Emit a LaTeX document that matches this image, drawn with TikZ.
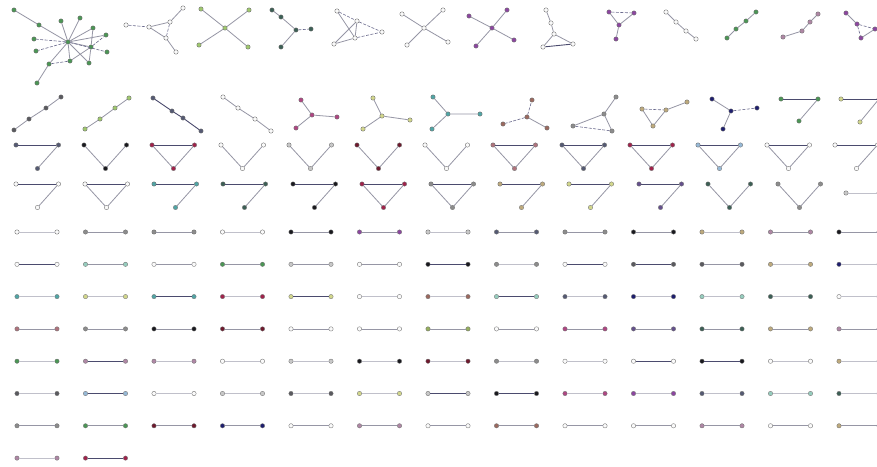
\documentclass[tikz,border=0pt]{standalone}
\definecolor{cW}{RGB}{250,250,250}
\definecolor{cLG}{RGB}{200,200,200}
\definecolor{cG}{RGB}{140,140,140}
\definecolor{cDG}{RGB}{90,90,95}
\definecolor{cK}{RGB}{25,25,30}
\definecolor{cPU}{RGB}{140,70,160}
\definecolor{cMG}{RGB}{175,70,130}
\definecolor{cCR}{RGB}{160,35,75}
\definecolor{cMR}{RGB}{110,25,45}
\definecolor{cTL}{RGB}{80,165,165}
\definecolor{cLT}{RGB}{150,205,190}
\definecolor{cGR}{RGB}{75,150,85}
\definecolor{cLGR}{RGB}{160,200,110}
\definecolor{cYG}{RGB}{210,215,140}
\definecolor{cTN}{RGB}{190,170,125}
\definecolor{cBR}{RGB}{155,105,95}
\definecolor{cMV}{RGB}{175,135,165}
\definecolor{cSL}{RGB}{85,90,115}
\definecolor{cNV}{RGB}{30,30,110}
\definecolor{cLB}{RGB}{150,185,215}
\definecolor{cDGS}{RGB}{60,95,85}
\definecolor{cOL}{RGB}{150,175,95}
\definecolor{cRS}{RGB}{175,115,125}
\definecolor{cPS}{RGB}{100,80,140}
\definecolor{eLc}{RGB}{192,192,202}
\definecolor{eMc}{RGB}{150,150,165}
\definecolor{eDc}{RGB}{75,75,110}
\definecolor{eXc}{RGB}{105,105,140}
\newcommand\gnode[4]{\node[nd,fill=#4] (#1) at (#2,#3) {};}
\begin{document}
\begin{tikzpicture}[x=1pt,y=-1pt,
  nd/.style={circle,inner sep=0pt,minimum size=4.4pt,draw=black!55,line width=0.35pt},
  eL/.style={draw=eLc,line width=0.7pt},
  eM/.style={draw=eMc,line width=0.8pt},
  eD/.style={draw=eDc,line width=0.9pt},
  eX/.style={draw=eXc,line width=0.6pt,dash pattern=on 3pt off 1.5pt}]
\useasboundingbox[fill=white] (0,0) rectangle (877,466);

% ---------- row 1 ----------
\gnode{a0}{68}{42}{cGR}\gnode{a1}{14}{10}{cGR}\gnode{a2}{39}{25}{cGR}
\gnode{a3}{61}{21}{cGR}\gnode{a4}{80}{18}{cGR}\gnode{a5}{93}{28}{cGR}
\gnode{a6}{106}{35}{cGR}\gnode{a7}{34}{39}{cGR}\gnode{a8}{36}{51}{cGR}
\gnode{a9}{91}{47}{cGR}\gnode{a10}{107}{52}{cGR}\gnode{a11}{70}{61}{cGR}
\gnode{a12}{49}{64}{cGR}\gnode{a13}{89}{63}{cGR}\gnode{a14}{37}{83}{cGR}
\draw[eM] (a1)--(a2) (a2)--(a0) (a0)--(a3) (a0)--(a4) (a0)--(a5) (a0)--(a6)
  (a0)--(a9) (a0)--(a11) (a0)--(a12) (a0)--(a13) (a12)--(a14) (a9)--(a13) (a5)--(a9) (a11)--(a9);
\draw[eX] (a0)--(a7) (a0)--(a8) (a0)--(a10) (a12)--(a11) (a9)--(a6);

\gnode{b1}{126}{25}{cW}\gnode{b2}{149}{27}{cW}\gnode{b3}{170}{22}{cW}
\gnode{b4}{183}{8}{cW}\gnode{b5}{166}{38}{cW}\gnode{b6}{176}{52}{cW}
\draw[eM] (b2)--(b3) (b3)--(b4) (b2)--(b5) (b5)--(b6);
\draw[eX] (b1)--(b2) (b3)--(b5);

\gnode{c0}{225}{28}{cLGR}\gnode{c1}{201}{9}{cLGR}\gnode{c2}{199}{45}{cLGR}
\gnode{c3}{249}{10}{cLGR}\gnode{c4}{248}{47}{cLGR}
\draw[eM] (c0)--(c1) (c0)--(c2) (c0)--(c3) (c0)--(c4);

\gnode{d1}{272}{10}{cDGS}\gnode{d2}{281}{17}{cDGS}\gnode{d3}{296}{30}{cDGS}
\gnode{d4}{311}{29}{cDGS}\gnode{d5}{281}{47}{cDGS}
\draw[eM] (d1)--(d2) (d2)--(d3) (d3)--(d5);
\draw[eX] (d3)--(d4);

\gnode{e1}{337}{11}{cW}\gnode{e2}{357}{21}{cW}\gnode{e3}{382}{32}{cW}
\gnode{e4}{334}{44}{cW}\gnode{e5}{355}{38}{cW}
\draw[eM] (e1)--(e5) (e2)--(e4) (e2)--(e5) (e4)--(e5);
\draw[eX] (e1)--(e2) (e2)--(e3) (e5)--(e3);

\gnode{f0}{424}{28}{cW}\gnode{f1}{402}{14}{cW}\gnode{f2}{407}{45}{cW}
\gnode{f3}{443}{10}{cW}\gnode{f4}{448}{42}{cW}
\draw[eM] (f0)--(f1) (f0)--(f2) (f0)--(f3) (f0)--(f4);

\gnode{g0}{492}{28}{cPU}\gnode{g1}{469}{16}{cPU}\gnode{g2}{507}{10}{cPU}
\gnode{g3}{476}{46}{cPU}\gnode{g4}{514}{40}{cPU}
\draw[eM] (g0)--(g1) (g0)--(g2) (g0)--(g3) (g0)--(g4);

\gnode{h1}{546}{10}{cW}\gnode{h2}{551}{23}{cW}\gnode{h3}{554}{34}{cW}
\gnode{h4}{543}{47}{cW}\gnode{h5}{573}{44}{cW}
\draw[eM] (h1)--(h2) (h2)--(h3) (h3)--(h4) (h3)--(h5);
\draw[eD] (h4)--(h5);

\gnode{i1}{609}{12}{cPU}\gnode{i2}{634}{13}{cPU}\gnode{i3}{619}{25}{cPU}\gnode{i4}{616}{39}{cPU}
\draw[eM] (i1)--(i3) (i2)--(i3) (i3)--(i4);
\draw[eX] (i1)--(i2);

\gnode{j1}{666}{12}{cW}\gnode{j2}{676}{22}{cW}\gnode{j3}{686}{31}{cW}\gnode{j4}{696}{39}{cW}
\draw[eM] (j1)--(j2) (j2)--(j3) (j3)--(j4);
\gnode{k1}{727}{38}{cGR}\gnode{k2}{736}{29}{cGR}\gnode{k3}{746}{21}{cGR}\gnode{k4}{756}{12}{cGR}
\draw[eM] (k1)--(k2) (k2)--(k3) (k3)--(k4);
\gnode{l1}{783}{37}{cMV}\gnode{l2}{802}{31}{cMV}\gnode{l3}{810}{22}{cMV}\gnode{l4}{818}{14}{cMV}
\draw[eM] (l1)--(l2) (l2)--(l3) (l3)--(l4);
\gnode{m1}{846}{13}{cPU}\gnode{m2}{857}{24}{cPU}\gnode{m3}{875}{29}{cPU}\gnode{m4}{861}{38}{cPU}
\draw[eM] (m1)--(m2) (m3)--(m4);
\draw[eX] (m2)--(m3) (m2)--(m4);

% ---------- row 2 ----------
\gnode{n1}{14}{130}{cDG}\gnode{n2}{29}{119}{cDG}\gnode{n3}{46}{108}{cDG}\gnode{n4}{61}{97}{cDG}
\draw[eM] (n1)--(n2) (n2)--(n3) (n3)--(n4);
\gnode{o1}{85}{129}{cLGR}\gnode{o2}{100}{119}{cLGR}\gnode{o3}{115}{108}{cLGR}\gnode{o4}{129}{98}{cLGR}
\draw[eM] (o1)--(o2) (o2)--(o3) (o3)--(o4);
\gnode{p1}{153}{98}{cSL}\gnode{p2}{172}{111}{cSL}\gnode{p3}{183}{118}{cSL}\gnode{p4}{201}{131}{cSL}
\draw[eD] (p1)--(p2) (p2)--(p3) (p3)--(p4);
\gnode{q1}{223}{97}{cW}\gnode{q2}{238}{108}{cW}\gnode{q3}{255}{119}{cW}\gnode{q4}{271}{131}{cW}
\draw[eM] (q1)--(q2) (q2)--(q3) (q3)--(q4);
\gnode{r0}{312}{115}{cMG}\gnode{r1}{301}{100}{cMG}\gnode{r2}{337}{117}{cMG}\gnode{r3}{296}{128}{cMG}
\draw[eM] (r0)--(r1) (r0)--(r2) (r0)--(r3);
\gnode{s0}{382}{116}{cYG}\gnode{s1}{373}{98}{cYG}\gnode{s2}{410}{120}{cYG}\gnode{s3}{363}{129}{cYG}
\draw[eM] (s0)--(s1) (s0)--(s2) (s0)--(s3);
\gnode{t0}{448}{114}{cTL}\gnode{t1}{433}{97}{cTL}\gnode{t2}{480}{114}{cTL}\gnode{t3}{432}{129}{cTL}
\draw[eM] (t0)--(t1) (t0)--(t2) (t0)--(t3);
\gnode{u0}{527}{117}{cBR}\gnode{u1}{532}{100}{cBR}\gnode{u2}{503}{124}{cBR}\gnode{u3}{547}{128}{cBR}
\draw[eM] (u0)--(u3);
\draw[eX] (u0)--(u1) (u0)--(u2);
\gnode{v1}{616}{97}{cG}\gnode{v2}{604}{114}{cG}\gnode{v3}{573}{126}{cG}\gnode{v4}{612}{131}{cG}
\draw[eM] (v1)--(v2) (v2)--(v3) (v2)--(v4);
\draw[eX] (v3)--(v4);
\gnode{w1}{642}{109}{cTN}\gnode{w2}{666}{110}{cTN}\gnode{w3}{687}{102}{cTN}\gnode{w4}{653}{126}{cTN}
\draw[eM] (w2)--(w3) (w1)--(w4) (w2)--(w4);
\draw[eX] (w1)--(w2);
\gnode{x0}{731}{111}{cNV}\gnode{x1}{712}{99}{cNV}\gnode{x2}{757}{108}{cNV}\gnode{x3}{723}{129}{cNV}
\draw[eM] (x0)--(x1) (x0)--(x3);
\draw[eX] (x0)--(x2);
\gnode{y1}{781}{99}{cGR}\gnode{y2}{818}{99}{cGR}\gnode{y3}{799}{121}{cGR}
\draw[eD] (y1)--(y2);
\draw[eM] (y2)--(y3);
\gnode{z1}{841}{99}{cYG}\gnode{z2}{879}{99}{cYG}\gnode{z3}{860}{122}{cYG}
\draw[eD] (z1)--(z2);
\draw[eM] (z2)--(z3);

% ---------- row 3 and row 4: three-node graphs ----------
% L shape: top edge + right to bottom
\foreach \L/\T/\col in {16/145/cSL, 835/145/cW, 16/184/cW, 154/184/cTL, 223/184/cDGS,
    293/184/cK, 500/184/cTN, 569/184/cYG, 639/184/cPS}{
  \gnode{ls\L-\T-a}{\L}{\T}{\col}
  \gnode{ls\L-\T-b}{\L+42.5}{\T}{\col}
  \gnode{ls\L-\T-c}{\L+21.5}{\T+23.5}{\col}
  \draw[eD] (ls\L-\T-a)--(ls\L-\T-b);
  \draw[eM] (ls\L-\T-b)--(ls\L-\T-c);
}
% V shape
\foreach \L/\T/\col in {84/145/cK, 221/145/cW, 289/145/cLG, 357/145/cMR, 425/145/cW,
    708/184/cDGS, 778/184/cG}{
  \gnode{vs\L-\T-a}{\L}{\T}{\col}
  \gnode{vs\L-\T-b}{\L+42.5}{\T}{\col}
  \gnode{vs\L-\T-c}{\L+21.5}{\T+23.5}{\col}
  \draw[eM] (vs\L-\T-a)--(vs\L-\T-c) (vs\L-\T-c)--(vs\L-\T-b);
}
% triangles
\foreach \L/\T/\col in {152/145/cCR, 493/145/cRS, 562/145/cSL, 630/145/cCR, 698/145/cLB,
    767/145/cW, 85/184/cW, 362/184/cCR, 431/184/cG}{
  \gnode{tr\L-\T-a}{\L}{\T}{\col}
  \gnode{tr\L-\T-b}{\L+42.5}{\T}{\col}
  \gnode{tr\L-\T-c}{\L+21.5}{\T+23.5}{\col}
  \draw[eD] (tr\L-\T-a)--(tr\L-\T-b);
  \draw[eM] (tr\L-\T-a)--(tr\L-\T-c) (tr\L-\T-c)--(tr\L-\T-b);
}
\gnode{sg1}{846}{193}{cLG}\gnode{sg2}{879}{193}{cLG}
\draw[eL] (sg1)--(sg2);

% ---------- single edges ----------
\foreach \r/\c/\col/\st in {
  0/0/cW/eL, 0/1/cG/eM, 0/2/cG/eM, 0/3/cW/eL, 0/4/cK/eM, 0/5/cPU/eM, 0/6/cLG/eL,
  0/7/cSL/eM, 0/8/cG/eM, 0/9/cK/eM, 0/10/cTN/eL, 0/11/cMV/eM, 0/12/cK/eM,
  1/0/cW/eD, 1/1/cLT/eM, 1/2/cW/eM, 1/3/cGR/eM, 1/4/cLG/eM, 1/5/cW/eM, 1/6/cK/eD,
  1/7/cG/eL, 1/8/cW/eD, 1/9/cDG/eD, 1/10/cDG/eM, 1/11/cTN/eL, 1/12/cNV/eL,
  2/0/cTL/eL, 2/1/cYG/eL, 2/2/cTL/eD, 2/3/cCR/eL, 2/4/cYG/eD, 2/5/cW/eL, 2/6/cBR/eL,
  2/7/cLT/eD, 2/8/cSL/eL, 2/9/cNV/eL, 2/10/cLT/eL, 2/11/cDGS/eL, 2/12/cW/eL,
  3/0/cRS/eM, 3/1/cG/eM, 3/2/cK/eM, 3/3/cMR/eM, 3/4/cW/eM, 3/5/cW/eM, 3/6/cOL/eM,
  3/7/cW/eM, 3/8/cMG/eM, 3/9/cPS/eM, 3/10/cDGS/eM, 3/11/cTN/eM, 3/12/cMV/eM,
  4/0/cGR/eL, 4/1/cMV/eD, 4/2/cMV/eL, 4/3/cW/eL, 4/4/cLG/eL, 4/5/cK/eL, 4/6/cMR/eL,
  4/7/cG/eL, 4/8/cW/eL, 4/9/cW/eD, 4/10/cK/eD, 4/11/cW/eL, 4/12/cTN/eL,
  5/0/cDG/eL, 5/1/cLB/eD, 5/2/cW/eL, 5/3/cLG/eL, 5/4/cDG/eL, 5/5/cYG/eL, 5/6/cLG/eD,
  5/7/cK/eD, 5/8/cMG/eL, 5/9/cPU/eL, 5/10/cSL/eL, 5/11/cLT/eL, 5/12/cDGS/eL,
  6/0/cG/eM, 6/1/cGR/eM, 6/2/cMR/eM, 6/3/cNV/eM, 6/4/cW/eM, 6/5/cMV/eM, 6/6/cW/eM,
  6/7/cBR/eM, 6/8/cW/eM, 6/9/cW/eM, 6/10/cMV/eM, 6/11/cW/eM, 6/12/cTN/eM,
  7/0/cMV/eL, 7/1/cCR/eD}{
  \pgfmathsetmacro\xa{17+68.5*\c}
  \pgfmathsetmacro\xb{\xa+40}
  \pgfmathsetmacro\yy{232+32.3*\r}
  \node[nd,fill=\col] (se\r-\c-a) at (\xa,\yy) {};
  \node[nd,fill=\col] (se\r-\c-b) at (\xb,\yy) {};
  \draw[\st] (se\r-\c-a) -- (se\r-\c-b);
}
\end{tikzpicture}
\end{document}
